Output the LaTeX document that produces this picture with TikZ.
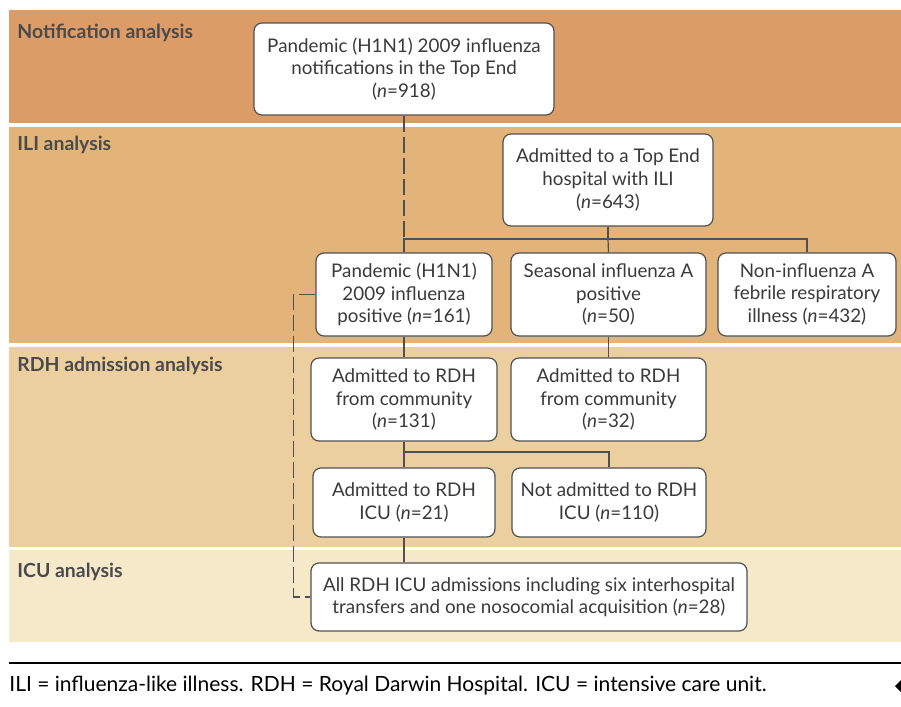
\documentclass[tikz,border=0pt]{standalone}
\usepackage{fontspec}
\setmainfont{Lato}
\usepackage{tikz}
\usetikzlibrary{calc}
\definecolor{notif}{RGB}{219,156,103}
\definecolor{ili}{RGB}{227,180,121}
\definecolor{rdh}{RGB}{235,207,159}
\definecolor{icu}{RGB}{245,233,201}
\definecolor{linegray}{RGB}{80,80,80}
\definecolor{textgray}{RGB}{58,58,58}
\definecolor{headgray}{RGB}{74,74,76}
\tikzstyle{box} = [draw=linegray, fill=white, line width=0.6pt, rounded corners=4pt, align=center, inner sep=0pt, text=textgray, font=\fontsize{9.4}{11.3}\selectfont]
\tikzstyle{head} = [anchor=west, inner sep=0pt, text=headgray, font=\fontsize{9.7}{11}\selectfont\bfseries]
\tikzstyle{conn} = [draw=linegray, line width=0.6pt]
\tikzstyle{dashconn} = [draw=linegray, line width=0.6pt, dash pattern=on 8pt off 2.5pt]

\begin{document}
\begin{tikzpicture} [x=0.5pt, y=-0.5pt]

						\useasboundingbox (0,0) rectangle (901,707);

						\fill[notif] (9,10) rectangle (901,123);
						\fill[ili] (9,127) rectangle (901,343);
						\fill[rdh] (9,347) rectangle (901,547);
						\fill[icu] (9,550) rectangle (901,642);

						\node[head] (H1) at (17,33) {Notification analysis};
						\node[head] (H2) at (17,145) {ILI analysis};
						\node[head] (H3) at (17,366) {RDH admission analysis};
						\node[head] (H4) at (17,572) {ICU analysis};

						\node[box, minimum width=150pt, minimum height=46pt] (N1) at (404,69) {Pandemic (H1N1) 2009 influenza\\notifications in the Top End\\(\textit{n}=918)};
						\node[box, minimum width=105pt, minimum height=46pt] (A1) at (608,180) {Admitted to a Top End\\hospital with ILI\\(\textit{n}=643)};

						\node[box, minimum width=88pt, minimum height=41.5pt] (P1) at (404,294.5) {Pandemic (H1N1)\\2009 influenza\\positive (\textit{n}=161)};
						\node[box, minimum width=97.5pt, minimum height=41.5pt] (S1) at (608.5,294.5) {Seasonal influenza A\\positive\\(\textit{n}=50)};
						\node[box, minimum width=89pt, minimum height=41.5pt] (NI) at (807,294.5) {Non-influenza A\\febrile respiratory\\illness (\textit{n}=432)};

						\node[box, minimum width=93pt, minimum height=41.5pt] (R1) at (404,399.5) {Admitted to RDH\\from community\\(\textit{n}=131)};
						\node[box, minimum width=97.5pt, minimum height=41.5pt] (R2) at (608.5,399.5) {Admitted to RDH\\from community\\(\textit{n}=32)};

						\node[box, minimum width=91pt, minimum height=34.5pt] (I1) at (404,502.5) {Admitted to RDH\\ICU (\textit{n}=21)};
						\node[box, minimum width=97pt, minimum height=34.5pt] (I2) at (609,502.5) {Not admitted to RDH\\ICU (\textit{n}=110)};

						\node[box, minimum width=218pt, minimum height=34pt] (ALL) at (529,597) {All RDH ICU admissions including six interhospital\\transfers and one nosocomial acquisition (\textit{n}=28)};

						\coordinate (B1) at (608,239);
						\coordinate (B2) at (404,452);

						\draw[dashconn] (N1.south) -- (N1.south |- B1);
						\draw[conn] (A1.south) -- (B1);
						\draw[conn] (P1.north) |- (B1) -| (NI.north);
						\draw[conn] (B1) -- (S1.north);

						\draw[conn] (P1.south) -- (R1.north);
						\draw[conn] (S1.south) -- (R2.north);

						\draw[conn] (R1.south) -- (I1.north);
						\draw[conn] (B2) -| (I2.north);
						\draw[conn] (I1.south) -- (ALL.north -| I1.south);

						\draw[dashconn] (P1.west) -- ++(-22,0) |- (ALL.west);

						\draw[line width=1pt] (9,663) -- (901,663);
						\node[anchor=west, inner sep=0pt, font=\fontsize{10.5}{12}\selectfont] (F1) at (9,686) {ILI = influenza-like illness. RDH = Royal Darwin Hospital. ICU = intensive care unit.};
						\fill (895,686) -- (901,680) -- (901,692) -- cycle;

					\end{tikzpicture}
\end{document}
